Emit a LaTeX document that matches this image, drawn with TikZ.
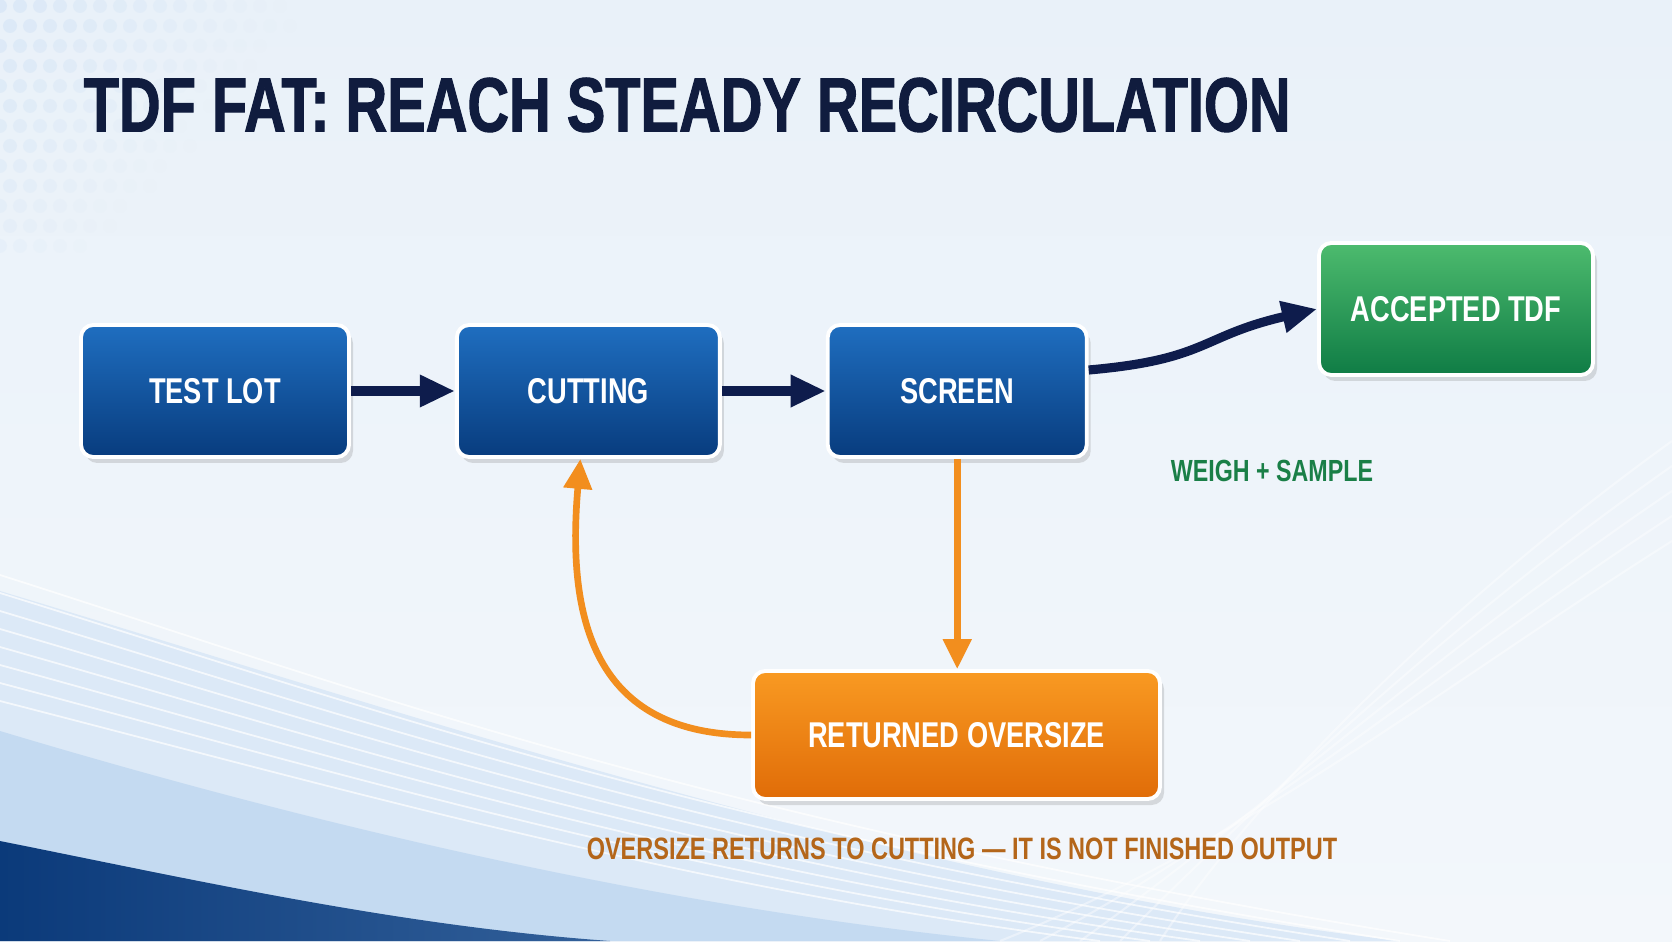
\documentclass[tikz,border=0pt]{standalone}
\usepackage{fontspec}
\setmainfont{Liberation Sans}[FakeStretch=0.76]
\newfontfamily\titlefont{Liberation Sans}[FakeStretch=0.75, FakeBold=1.3]
\usepackage{tikz}
\usetikzlibrary{arrows.meta,positioning,shadows}
\definecolor{titlenavy}{HTML}{101C3E}
\definecolor{arrownavy}{HTML}{0E1C4C}
\definecolor{boxbluetop}{HTML}{1F6EC0}
\definecolor{boxbluebot}{HTML}{083C7E}
\definecolor{boxgreentop}{HTML}{4DBB6E}
\definecolor{boxgreenbot}{HTML}{0F7C45}
\definecolor{boxorangetop}{HTML}{F99A22}
\definecolor{boxorangebot}{HTML}{E06C08}
\definecolor{flowOrange}{HTML}{F28E1E}
\definecolor{noteGreen}{HTML}{1A7F47}
\definecolor{noteBrown}{HTML}{B4661A}
\definecolor{bgtop}{HTML}{E9F1F9}
\definecolor{bgbot}{HTML}{F3F7FB}
\definecolor{wavelight}{HTML}{D3E4F5}
\definecolor{wavemid}{HTML}{8FB9E4}
\definecolor{wavedark}{HTML}{0B3A7A}

\tikzset{
    stagebox/.style={rounded corners=3.5pt, draw=white, line width=1.1pt,
        minimum width=2.62cm, minimum height=1.32cm, align=center,
        text=white, font=\bfseries\fontsize{10.2}{12}\selectfont,
        drop shadow={shadow xshift=0.4mm, shadow yshift=-0.6mm, opacity=0.25}},
    bluebox/.style={stagebox, top color=boxbluetop, bottom color=boxbluebot},
    greenbox/.style={stagebox, top color=boxgreentop, bottom color=boxgreenbot, minimum width=2.74cm},
    orangebox/.style={stagebox, top color=boxorangetop, bottom color=boxorangebot, minimum width=4.07cm, minimum height=1.28cm},
    mainflow/.style={draw=arrownavy, line width=2.6pt, -{Triangle[length=10pt,width=8.6pt]}},
    backflow/.style={draw=flowOrange, line width=1.9pt, -{Triangle[length=8.5pt,width=7.8pt]}}
}

\begin{document}
\begin{tikzpicture}
        \useasboundingbox (0,0) rectangle (16.72,9.41);
        \shade[top color=bgtop, bottom color=bgbot] (0,0) rectangle (16.72,9.41);
        \foreach \i in {0,...,16}{
            \foreach \j in {0,...,12}{
                \pgfmathsetmacro\dotop{max(0,0.9-0.06*\i-0.05*\j)}
                \pgfmathsetmacro\dotx{0.2*\i+0.1*mod(\j,2)}
                \fill[wavelight!85!white, opacity=\dotop] (\dotx, 9.35-0.2*\j) circle[radius=0.07];
            }
        }

        \fill[wavelight!80!white] (0,3.5) .. controls (4,2.3) and (9,0.6) .. (14,0) -- (0,0) -- cycle;
        \fill[wavemid, opacity=0.3] (0,2.1) .. controls (3,1.2) and (6.5,0.35) .. (10,0) -- (0,0) -- cycle;
        \shade[left color=wavedark, right color=wavedark!70!wavemid] (0,1.0) .. controls (2,0.6) and (4,0.15) .. (6.1,0) -- (0,0) -- cycle;
        \foreach \k in {0,...,7}
            \draw[white, opacity=0.7, line width=0.5pt] (0,2.4+0.18*\k) .. controls (3.5,1.5+0.15*\k) and (7,0.5+0.1*\k) .. (11+0.5*\k,0);
        \foreach \k in {0,...,4}
            \draw[white, opacity=0.4, line width=0.6pt] (16.72,4.0+0.25*\k) .. controls (14.5,2.6+0.2*\k) and (12.5,1.0+0.1*\k) .. (10+0.4*\k,0);

        \node[anchor=west, inner sep=0pt, text=titlenavy, font=\titlefont\bfseries\fontsize{21.9}{26}\selectfont] (title) at (0.83,8.36) {TDF FAT: REACH STEADY RECIRCULATION};

        \node[bluebox, minimum width=2.68cm] (testlot) at (2.15,5.50) {TEST LOT};
        \node[bluebox, right=1.04cm of testlot, minimum width=2.63cm] (cutting) {CUTTING};
        \node[bluebox, right=1.04cm of cutting, minimum width=2.59cm] (screen) {SCREEN};
        \node[greenbox] (accepted) at (14.56,6.32) {ACCEPTED TDF};
        \node[orangebox] (returned) at (9.565,2.06) {RETURNED OVERSIZE};

        \node[text=noteGreen, font=\bfseries\fontsize{8.7}{10}\selectfont] (weigh) at (12.72,4.70) {WEIGH + SAMPLE};
        \node[text=noteBrown, font=\bfseries\fontsize{8.8}{11}\selectfont] (note) at (9.62,0.92) {OVERSIZE RETURNS TO CUTTING --- IT IS NOT FINISHED OUTPUT};

        \coordinate (screenout) at ([yshift=2.1mm]screen.east);
        \coordinate (cutin) at ([xshift=-0.8mm]cutting.south);

        \draw[mainflow] (testlot) -- (cutting);
        \draw[mainflow] (cutting) -- (screen);
        \draw[mainflow] (screenout) to[out=5, in=193, looseness=1.3] (accepted.west);
        \draw[backflow] (screen.south) -- (screen.south |- returned.north);
        \draw[backflow] (returned.west) to[out=180, in=265, looseness=1.25] (cutin);
    \end{tikzpicture}
\end{document}
